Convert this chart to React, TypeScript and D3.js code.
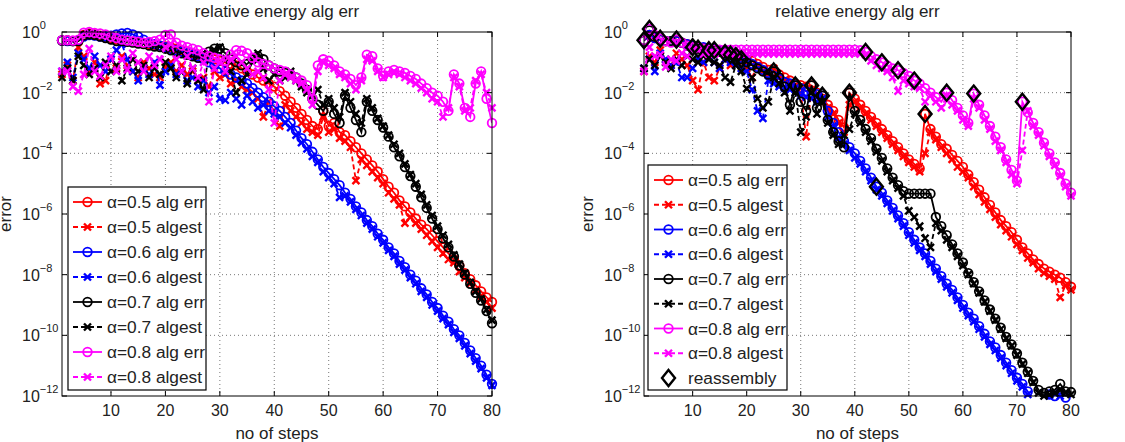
import React from 'react';
import * as d3 from 'd3';

// ---------- data (log10 of error) ----------
const steps = d3.range(1, 81);
const xTicks = [10, 20, 30, 40, 50, 60, 70, 80];
const yTickExps = [0, -2, -4, -6, -8, -10, -12];
const titleText = 'relative energy alg err';
const xLabelText = 'no of steps';
const yLabelText = 'error';

const L5err = [-0.28,-0.28,-0.3,-0.3,-0.1,-0.05,-0.08,-0.12,-0.15,-0.2,
-0.25,-0.28,-0.3,-0.33,-0.35,-0.38,-0.4,-0.42,-0.45,-0.48,
-0.5,-0.55,-0.6,-0.65,-0.7,-0.75,-0.8,-0.85,-0.9,-0.95,
-1.0,-1.05,-1.1,-1.2,-1.3,-1.4,-1.5,-1.6,-1.7,-1.8,
-1.95,-2.1,-2.3,-2.5,-2.7,-2.9,-3.1,-3.2,-2.6,-3.1,
-3.0,-3.3,-3.4,-3.6,-3.8,-4.0,-4.2,-4.4,-4.6,-4.85,
-5.1,-5.3,-5.55,-5.75,-5.95,-6.15,-6.35,-6.5,-6.7,-6.9,
-7.1,-7.3,-7.5,-7.7,-7.95,-8.15,-8.35,-8.55,-8.75,-8.9];
const L5est = [-1.4,-1.1,-1.6,-0.5,-0.8,-1.3,-1.0,-1.7,-1.6,-0.9,
-1.2,-0.8,-1.1,-1.3,-1.5,-1.0,-1.2,-1.4,-1.5,-1.15,
-1.0,-1.3,-1.1,-1.4,-1.3,-1.6,-1.5,-1.8,-1.3,-1.5,
-1.4,-1.7,-1.6,-1.8,-1.9,-2.0,-2.2,-2.8,-2.3,-2.6,
-3.1,-2.4,-2.6,-2.8,-3.0,-3.2,-3.3,-3.4,-2.8,-3.3,
-3.2,-3.5,-3.6,-3.8,-4.9,-4.2,-4.4,-4.6,-4.8,-5.0,
-5.3,-5.5,-5.7,-6.3,-6.1,-6.3,-6.5,-6.7,-6.9,-7.1,
-7.3,-7.5,-7.6,-7.9,-8.1,-8.3,-8.5,-8.7,-8.9,-9.1];
const L6err = [-0.28,-0.3,-0.3,-0.28,-0.15,-0.1,-0.12,-0.15,-0.15,-0.12,
-0.08,-0.05,-0.03,-0.08,-0.15,-0.25,-0.35,-0.4,-0.45,-0.5,
-0.55,-0.6,-0.65,-0.7,-0.75,-0.8,-0.9,-1.0,-1.1,-1.2,
-1.3,-1.4,-1.5,-1.6,-1.7,-1.85,-2.0,-2.15,-2.3,-2.45,
-2.6,-2.8,-3.0,-3.25,-3.5,-3.7,-3.95,-4.2,-4.45,-4.65,
-4.85,-5.05,-5.3,-5.5,-5.75,-5.95,-6.2,-6.4,-6.65,-6.85,
-7.1,-7.3,-7.55,-7.75,-8.0,-8.2,-8.45,-8.65,-8.9,-9.1,
-9.35,-9.55,-9.8,-10.0,-10.25,-10.5,-10.75,-11.0,-11.3,-11.6];
const L6est = [-1.3,-1.0,-1.5,-0.7,-0.9,-1.2,-0.8,-1.1,-1.3,-0.9,
-0.6,-0.4,-0.9,-1.3,-1.6,-1.2,-1.4,-1.0,-1.75,-1.3,
-1.1,-1.4,-1.3,-1.6,-1.5,-1.8,-1.6,-2.0,-1.8,-2.2,
-2.25,-2.0,-2.2,-2.4,-2.1,-2.3,-2.5,-2.4,-2.6,-2.7,
-2.8,-3.0,-3.15,-3.4,-3.65,-3.85,-4.1,-4.3,-4.6,-4.8,
-5.0,-5.45,-5.4,-5.6,-5.85,-6.05,-6.3,-6.5,-6.75,-6.95,
-7.2,-7.4,-7.65,-7.85,-8.1,-8.3,-8.55,-8.75,-9.0,-9.2,
-9.45,-9.65,-9.9,-10.1,-10.35,-10.6,-10.85,-11.1,-11.4,-11.65];
const L7err = [-0.28,-0.28,-0.3,-0.3,-0.12,-0.08,-0.1,-0.15,-0.2,-0.25,
-0.3,-0.3,-0.32,-0.35,-0.38,-0.4,-0.45,-0.48,-0.5,-0.55,
-0.6,-0.65,-0.7,-0.75,-0.8,-0.85,-0.8,-0.65,-0.55,-0.55,
-0.7,-0.9,-1.0,-1.1,-1.05,-0.9,-0.8,-0.9,-1.1,-1.2,
-1.3,-1.35,-1.4,-1.5,-1.7,-1.9,-2.2,-2.4,-2.6,-2.3,
-2.7,-3.0,-2.1,-2.5,-2.9,-3.3,-2.3,-2.6,-2.9,-3.15,
-3.45,-3.8,-4.1,-4.45,-4.75,-5.1,-5.45,-5.8,-6.15,-6.5,
-6.8,-7.1,-7.4,-7.7,-8.0,-8.3,-8.6,-8.85,-9.2,-9.6];
const L7est = [-1.5,-1.2,-1.6,-0.8,-1.1,-1.4,-1.2,-1.5,-1.0,-1.3,
-1.1,-1.6,-1.2,-0.9,-1.3,-1.1,-1.5,-1.2,-1.4,-1.0,
-1.2,-1.5,-1.3,-1.7,-1.2,-1.6,-1.9,-0.7,-0.6,-0.5,
-0.9,-1.3,-2.0,-1.6,-1.4,-0.9,-0.7,-1.2,-1.6,-1.4,
-1.6,-1.5,-1.3,-1.6,-1.8,-2.0,-2.1,-1.9,-2.4,-2.2,
-2.5,-2.8,-2.0,-2.3,-2.7,-3.0,-2.2,-2.5,-2.85,-3.1,
-3.4,-3.7,-4.0,-4.35,-4.7,-5.0,-5.35,-5.7,-6.05,-6.4,
-6.7,-7.0,-7.35,-7.65,-7.95,-8.25,-8.55,-8.8,-9.15,-9.5];
const L8err = [-0.27,-0.27,-0.28,-0.25,-0.02,0.0,-0.03,-0.05,-0.08,-0.15,
-0.2,-0.25,-0.28,-0.3,-0.32,-0.35,-0.33,-0.3,-0.25,-0.1,
-0.08,-0.35,-0.45,-0.5,-0.55,-0.6,-0.7,-0.8,-0.85,-0.9,
-0.95,-0.75,-0.6,-0.62,-0.7,-0.85,-1.0,-1.05,-1.1,-1.2,
-1.25,-1.3,-1.4,-1.5,-1.6,-1.75,-2.2,-1.1,-0.9,-0.95,
-1.1,-1.3,-1.4,-1.55,-1.75,-1.5,-0.75,-0.8,-1.2,-1.45,
-1.3,-1.25,-1.3,-1.35,-1.45,-1.55,-1.7,-1.85,-2.0,-2.1,
-2.3,-2.6,-1.4,-1.7,-2.5,-2.8,-1.7,-1.3,-2.2,-3.0];
const L8est = [-1.3,-1.3,-1.8,-1.95,-1.4,-0.55,-1.3,-1.45,-1.1,-0.8,
-1.3,-0.9,-1.25,-0.7,-1.0,-1.3,-0.8,-1.1,-0.9,-0.5,
-0.4,-0.9,-1.3,-0.8,-1.2,-1.5,-1.0,-2.3,-1.2,-1.0,
-1.3,-0.9,-0.8,-1.0,-1.2,-1.4,-1.3,-1.5,-1.9,-3.0,
-1.6,-1.4,-1.5,-1.6,-1.7,-1.9,-2.4,-1.3,-1.0,-1.1,
-1.2,-1.4,-1.5,-1.7,-1.9,-1.6,-0.9,-0.95,-1.3,-1.5,
-1.4,-1.35,-1.4,-1.5,-1.6,-1.7,-1.85,-2.0,-2.2,-2.3,
-2.8,-2.5,-1.5,-1.8,-2.6,-2.5,-1.6,-1.4,-2.0,-2.5];

const R5err = [-0.28,-0.1,-0.2,-0.25,-0.3,-0.3,-0.3,-0.35,-0.4,-0.45,
-0.5,-0.55,-0.55,-0.6,-0.6,-0.65,-0.7,-0.75,-0.8,-0.9,
-0.95,-1.05,-1.15,-1.25,-1.3,-1.4,-1.5,-1.6,-1.7,-1.75,
-1.8,-1.76,-2.0,-2.2,-2.4,-2.6,-2.9,-3.15,-2.0,-2.2,
-2.4,-2.6,-2.8,-3.0,-3.2,-3.4,-3.6,-3.8,-4.0,-4.2,
-4.35,-4.5,-2.7,-3.2,-3.45,-3.7,-3.85,-4.05,-4.25,-4.45,
-4.7,-4.95,-5.2,-5.45,-5.7,-5.95,-6.2,-6.4,-6.6,-6.85,
-7.1,-7.3,-7.5,-7.65,-7.8,-7.9,-8.0,-8.1,-8.25,-8.4];
const R5est = [-1.3,-0.8,-1.0,-0.6,-0.9,-1.1,-0.7,-0.9,-1.1,-1.6,
-1.9,-1.0,-1.5,-1.6,-1.2,-0.9,-1.1,-0.8,-1.0,-1.2,
-1.5,-1.1,-1.3,-1.4,-1.2,-1.5,-1.6,-1.7,-1.8,-2.0,
-3.45,-1.9,-2.1,-2.3,-2.5,-2.7,-3.0,-3.3,-2.4,-2.3,
-2.5,-2.7,-2.9,-3.1,-3.3,-3.5,-3.7,-3.9,-4.1,-4.3,
-4.45,-4.6,-4.0,-3.3,-3.55,-3.8,-4.0,-4.2,-4.45,-4.6,
-4.8,-5.1,-5.35,-5.6,-5.85,-6.1,-6.35,-6.55,-6.75,-7.0,
-7.2,-7.45,-7.6,-7.8,-7.95,-8.05,-8.15,-8.75,-8.35,-8.5];
const R6err = [-0.28,-0.1,-0.2,-0.25,-0.3,-0.3,-0.3,-0.35,-0.4,-0.45,
-0.5,-0.5,-0.55,-0.55,-0.6,-0.65,-0.7,-0.8,-0.85,-0.95,
-1.05,-1.15,-1.25,-1.35,-1.45,-1.55,-1.65,-1.7,-1.76,-1.85,
-1.95,-2.0,-2.05,-2.1,-2.6,-3.0,-3.3,-3.6,-3.8,-4.0,
-4.25,-4.5,-4.8,-5.1,-5.3,-5.55,-5.8,-6.05,-6.3,-6.6,
-6.85,-7.1,-7.3,-7.55,-7.8,-8.05,-8.3,-8.5,-8.75,-9.0,
-9.25,-9.45,-9.7,-9.95,-10.2,-10.4,-10.65,-10.9,-11.15,-11.4,
-11.6,-11.85,-12.1,-12.3,-12.1,-11.95,-12.0,-11.9,-12.05,-12.2];
const R6est = [-1.2,-0.9,-1.3,-0.7,-0.9,-1.1,-1.0,-1.5,-1.5,-1.2,
-0.9,-1.0,-0.8,-1.0,-1.2,-0.9,-1.0,-1.1,-1.2,-1.3,
-1.9,-2.6,-2.85,-1.6,-1.7,-1.8,-1.85,-1.9,-2.0,-2.1,
-2.15,-2.2,-2.3,-2.2,-2.8,-3.1,-3.5,-3.7,-3.9,-4.15,
-4.35,-4.6,-4.9,-5.2,-5.4,-5.65,-5.9,-6.15,-6.4,-6.7,
-6.95,-7.2,-7.4,-7.65,-7.9,-8.15,-8.4,-8.6,-8.85,-9.1,
-9.35,-9.55,-9.8,-10.05,-10.3,-10.5,-10.75,-11.0,-11.25,-11.5,
-11.7,-11.95,-12.2,-12.4,-12.2,-12.0,-12.1,-12.0,-12.1,-12.3];
const R7err = [-0.28,0.05,-0.15,-0.22,-0.3,-0.3,-0.25,-0.35,-0.45,-0.5,
-0.55,-0.55,-0.6,-0.6,-0.65,-0.7,-0.75,-0.8,-0.9,-1.0,
-1.1,-1.2,-1.3,-1.4,-1.3,-1.5,-1.8,-2.4,-1.76,-2.3,
-2.6,-1.76,-2.5,-2.1,-2.9,-3.3,-3.6,-3.8,-2.0,-2.6,
-2.9,-3.2,-3.5,-3.85,-4.15,-4.5,-4.8,-5.05,-5.25,-5.33,
-5.33,-5.33,-5.33,-5.33,-6.1,-6.4,-6.7,-7.0,-7.3,-7.6,
-7.95,-8.25,-8.55,-8.85,-9.15,-9.45,-9.75,-10.05,-10.3,-10.6,
-10.9,-11.2,-11.5,-11.8,-11.9,-11.85,-11.8,-11.6,-11.85,-11.87];
const R7est = [-1.2,-0.9,-1.1,-0.8,-1.0,-1.2,-0.9,-1.1,-0.8,-0.9,
-1.0,-0.8,-0.9,-1.0,-1.1,-1.5,-1.65,-1.1,-1.3,-1.87,
-1.5,-2.2,-2.5,-2.3,-1.5,-1.7,-2.0,-2.6,-2.0,-3.3,
-2.8,-2.0,-2.7,-2.3,-3.0,-3.4,-3.7,-3.4,-3.2,-2.7,
-3.0,-3.3,-3.6,-3.95,-4.25,-4.6,-4.9,-5.15,-5.4,-5.9,
-6.1,-6.4,-6.8,-7.1,-6.3,-6.55,-6.85,-7.1,-7.4,-7.7,
-8.0,-8.3,-8.6,-8.9,-9.2,-9.5,-9.8,-10.1,-10.35,-10.65,
-10.95,-11.25,-11.55,-11.9,-12.0,-11.95,-11.9,-11.8,-11.9,-11.95];
const R8err = [-0.27,0.1,-0.1,-0.22,-0.3,-0.35,-0.25,-0.35,-0.45,-0.5,
-0.5,-0.55,-0.58,-0.58,-0.58,-0.58,-0.58,-0.58,-0.58,-0.58,
-0.58,-0.58,-0.58,-0.58,-0.58,-0.58,-0.58,-0.58,-0.58,-0.58,
-0.58,-0.58,-0.58,-0.58,-0.58,-0.58,-0.58,-0.58,-0.58,-0.58,
-0.6,-0.66,-0.8,-0.9,-1.0,-1.1,-1.2,-1.26,-1.35,-1.45,
-1.6,-1.7,-1.85,-2.0,-2.15,-2.3,-2.0,-2.25,-2.5,-2.75,
-3.0,-2.03,-2.4,-2.75,-3.1,-3.45,-3.8,-4.2,-4.55,-4.9,
-2.3,-2.65,-3.0,-3.3,-3.65,-4.0,-4.3,-4.65,-5.0,-5.3];
const R8est = [-1.3,-0.5,-0.8,-0.75,-1.15,-0.9,-0.95,-0.7,-0.8,-0.6,
-0.6,-0.72,-0.72,-0.72,-0.72,-0.72,-0.72,-0.72,-0.72,-0.72,
-0.72,-0.72,-0.72,-0.72,-0.72,-0.72,-0.72,-0.72,-0.72,-0.72,
-0.72,-0.72,-0.72,-0.72,-0.72,-0.72,-0.72,-0.72,-0.72,-0.72,
-0.72,-0.75,-0.95,-1.1,-1.2,-1.3,-1.5,-1.95,-1.6,-1.7,
-1.8,-1.85,-2.3,-2.1,-2.3,-2.5,-2.1,-2.4,-2.6,-2.9,
-3.1,-2.2,-2.5,-2.9,-3.2,-3.6,-3.9,-4.3,-4.7,-5.0,
-3.9,-2.6,-3.1,-3.4,-3.75,-4.1,-4.4,-4.75,-5.1,-5.4];

const reX = [1, 2, 4, 7, 10, 11, 13, 14, 16, 17, 18, 19, 25, 29, 32, 34, 39, 42, 44, 45, 48, 51, 53, 57, 62, 71];
const reY = [-0.27, 0.1, -0.22, -0.25, -0.5, -0.55, -0.6, -0.6, -0.7, -0.75, -0.8, -0.9, -1.3, -1.76, -1.76, -2.1, -2.0, -0.66, -5.1, -1.0, -1.26, -1.6, -2.7, -2.0, -2.03, -2.3];

const legendNames = ['α=0.5 alg err', 'α=0.5 algest', 'α=0.6 alg err', 'α=0.6 algest',
  'α=0.7 alg err', 'α=0.7 algest', 'α=0.8 alg err', 'α=0.8 algest'];
const seriesColors = ['#ff0000', '#ff0000', '#0000ff', '#0000ff', '#000000', '#000000', '#ff00ff', '#ff00ff'];
const seriesKinds = ['err', 'est', 'err', 'est', 'err', 'est', 'err', 'est'];
const leftData = [L5err, L5est, L6err, L6est, L7err, L7est, L8err, L8est];
const rightData = [R5err, R5est, R6err, R6est, R7err, R7est, R8err, R8est];

const FONT = '"Liberation Sans", Arial, Helvetica, sans-serif';
const TOP = 32, BOTTOM = 396;
const DIAMOND = 'M0,-8L6.5,0L0,8L-6.5,0Z';
const XMARK = 'M-3.5,-3.5L3.5,3.5M-3.5,3.5L3.5,-3.5';

function CircleM({ cx, cy, color }: any) {
  return <circle cx={cx} cy={cy} r={4.3} fill="none" stroke={color} strokeWidth={1.8} />;
}
function XM({ cx, cy, color }: any) {
  return <path d={XMARK} transform={`translate(${cx},${cy})`} fill="none" stroke={color} strokeWidth={2.4} />;
}

function Panel({ id, x0, x1, data, legend, reassembly }: any) {
  const x = d3.scaleLinear().domain([1, 80]).range([x0, x1]);
  const y = d3.scaleLog().domain([1e-12, 1]).range([BOTTOM, TOP]);
  const line = d3.line<number>().x((_, i) => x(steps[i])).y((d) => y(Math.pow(10, d)));
  const cx = (x0 + x1) / 2;
  const visible = (v: number) => v >= -12.05 && v <= 0.3;
  return (
    <g>
      <defs>
        <clipPath id={`clip-${id}`}>
          <rect x={x0} y={TOP} width={x1 - x0} height={BOTTOM - TOP} />
        </clipPath>
        <clipPath id={`lclip-${id}`}>
          <rect x={legend.x} y={legend.y} width={legend.w} height={legend.h} />
        </clipPath>
      </defs>
      <rect x={x0} y={TOP} width={x1 - x0} height={BOTTOM - TOP} fill="#fff" />
      {xTicks.filter((t) => t < 80).map((t) => (
        <line key={`gx${t}`} x1={x(t)} x2={x(t)} y1={TOP} y2={BOTTOM} stroke="#777" strokeWidth={1} strokeDasharray="1,3" />
      ))}
      {yTickExps.filter((e) => e < 0 && e > -12).map((e) => (
        <line key={`gy${e}`} x1={x0} x2={x1} y1={y(Math.pow(10, e))} y2={y(Math.pow(10, e))} stroke="#777" strokeWidth={1} strokeDasharray="1,3" />
      ))}
      {data.map((arr: number[], si: number) => {
        const color = seriesColors[si];
        const kind = seriesKinds[si];
        return (
          <g key={`s${si}`}>
            <path d={line(arr) || ''} fill="none" stroke={color} strokeWidth={1.8}
              strokeDasharray={kind === 'est' ? '5,3' : undefined} clipPath={`url(#clip-${id})`} />
            {arr.map((v, i) => visible(v) ? (kind === 'err'
              ? <CircleM key={i} cx={x(steps[i])} cy={y(Math.pow(10, v))} color={color} />
              : <XM key={i} cx={x(steps[i])} cy={y(Math.pow(10, v))} color={color} />) : null)}
          </g>
        );
      })}
      {reassembly && reX.map((rx, i) => (
        <path key={`re${i}`} d={DIAMOND} transform={`translate(${x(rx)},${y(Math.pow(10, reY[i]))})`}
          fill="none" stroke="#000" strokeWidth={2.4} />
      ))}
      <rect x={x0} y={TOP} width={x1 - x0} height={BOTTOM - TOP} fill="none" stroke="#000" strokeWidth={1} />
      {xTicks.map((t) => (
        <g key={`tx${t}`}>
          <line x1={x(t)} x2={x(t)} y1={BOTTOM} y2={BOTTOM - 5} stroke="#000" />
          <line x1={x(t)} x2={x(t)} y1={TOP} y2={TOP + 5} stroke="#000" />
          <text x={x(t)} y={416} textAnchor="middle" fontSize={16} fontFamily={FONT} fill="#222">{t}</text>
        </g>
      ))}
      {yTickExps.map((e) => {
        const yy = y(Math.pow(10, e));
        return (
          <g key={`ty${e}`}>
            <line x1={x0} x2={x0 + 5} y1={yy} y2={yy} stroke="#000" />
            <line x1={x1} x2={x1 - 5} y1={yy} y2={yy} stroke="#000" />
            <text x={x0 - 40} y={yy + 6} fontSize={16} fontFamily={FONT} fill="#222">
              10<tspan fontSize={11} dy={-9}>{e === 0 ? '0' : `\u2212${-e}`}</tspan>
            </text>
          </g>
        );
      })}
      <text x={cx} y={17} textAnchor="middle" fontSize={17} fontFamily={FONT} fill="#222">{titleText}</text>
      <text x={cx} y={439} textAnchor="middle" fontSize={17} fontFamily={FONT} fill="#222">{xLabelText}</text>
      <text transform={`translate(${x0 - 51},214) rotate(-90)`} textAnchor="middle" fontSize={17} fontFamily={FONT} fill="#222">{yLabelText}</text>
      <rect x={legend.x} y={legend.y} width={legend.w} height={legend.h} fill="#fff" stroke="#000" strokeWidth={1.2} />
      <g clipPath={`url(#lclip-${id})`}>
        {legendNames.map((name, i) => {
          const ry = legend.row0 + i * legend.dy;
          const color = seriesColors[i];
          const kind = seriesKinds[i];
          const mx = (legend.lx0 + legend.lx1) / 2;
          return (
            <g key={`lg${i}`}>
              <line x1={legend.lx0} x2={legend.lx1} y1={ry} y2={ry} stroke={color} strokeWidth={1.8}
                strokeDasharray={kind === 'est' ? '5,3' : undefined} />
              {kind === 'err' ? <CircleM cx={mx} cy={ry} color={color} /> : <XM cx={mx} cy={ry} color={color} />}
              <text x={legend.tx} y={ry + 6} fontSize={17.3} fontFamily={FONT} fill="#222">{name}</text>
            </g>
          );
        })}
        {reassembly && (() => {
          const ry = legend.row0 + 8 * legend.dy;
          const mx = (legend.lx0 + legend.lx1) / 2;
          return (
            <g>
              <path d={DIAMOND} transform={`translate(${mx},${ry})`} fill="none" stroke="#000" strokeWidth={2.4} />
              <text x={legend.tx} y={ry + 6} fontSize={17.3} fontFamily={FONT} fill="#222">reassembly</text>
            </g>
          );
        })()}
      </g>
    </g>
  );
}

export default function App() {
  const leftLegend = { x: 68, y: 187, w: 138, h: 203, row0: 202, dy: 25, lx0: 73, lx1: 102, tx: 107 };
  const rightLegend = { x: 648, y: 165, w: 139, h: 225, row0: 180, dy: 24.75, lx0: 654, lx1: 683, tx: 688 };
  return (
    <svg width={1125} height={442} style={{ position: 'absolute', left: 0, top: 0, background: '#fff' }}>
      <rect x={0} y={0} width={1125} height={442} fill="#fff" />
      <Panel id="L" x0={62} x1={492} data={leftData} legend={leftLegend} reassembly={false} />
      <Panel id="R" x0={644} x1={1071} data={rightData} legend={rightLegend} reassembly={true} />
    </svg>
  );
}
